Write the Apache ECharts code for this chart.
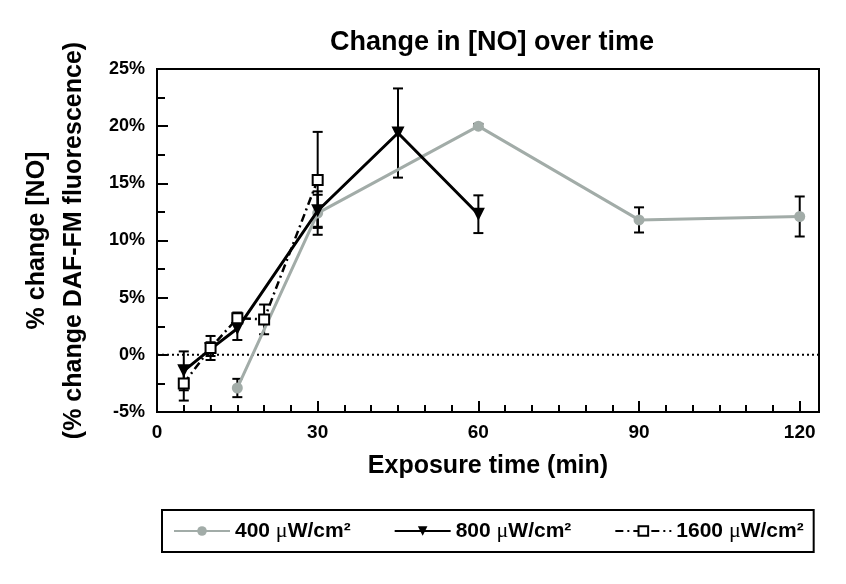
<!DOCTYPE html>
<html>
<head>
<meta charset="utf-8">
<script src="https://cdn.jsdelivr.net/npm/echarts@6/dist/echarts.min.js"></script>
<style>html,body{margin:0;padding:0;background:#fff}#c{width:846px;height:584px}</style>
</head>
<body>
<div id="c"></div>
<script>
// ---- data ----
const time400 = [15, 30, 60, 90, 120];
const mean400 = [-2.9, 12.4, 20.0, 11.8, 12.1];
const err400  = [0.8, 1.9, 0.2, 1.1, 1.75];

const time800 = [5, 10, 15, 30, 45, 60];
const mean800 = [-1.4, 0.5, 2.3, 12.6, 19.4, 12.3];
const err800  = [1.7, 0.6, 1.0, 1.4, 3.9, 1.65];

const time1600 = [5, 10, 15, 20, 30];
const mean1600 = [-2.5, 0.6, 3.2, 3.1, 15.3];
const err1600  = [1.5, 1.05, 0.5, 1.3, 4.2];

const seriesNames = ['400 \u03bcW/cm\u00b2', '800 \u03bcW/cm\u00b2', '1600 \u03bcW/cm\u00b2'];
const xTicks = [0, 30, 60, 90, 120];
const yTicks = [-5, 0, 5, 10, 15, 20, 25];
const xRange = [0, 123.6];
const baseline = [0];

const FONT = '"Liberation Sans", Arial, Helvetica, sans-serif';

function pts(t, m) { return t.map((x, i) => [x, m[i]]); }
function errPts(t, m, e) { return t.map((x, i) => [x, m[i], e[i]]); }

function errorBar(name, data) {
  return {
    type: 'custom',
    name: name + '_err',
    xAxisIndex: 0, yAxisIndex: 0,
    z: 1,
    silent: true,
    data: data,
    renderItem: function (params, api) {
      const x = api.value(0), y = api.value(1), e = api.value(2);
      const hi = api.coord([x, y + e]);
      const lo = api.coord([x, y - e]);
      const w = 5;
      const st = { stroke: '#000', lineWidth: 2 };
      return {
        type: 'group',
        children: [
          { type: 'line', shape: { x1: hi[0], y1: hi[1], x2: lo[0], y2: lo[1] }, style: st },
          { type: 'line', shape: { x1: hi[0] - w, y1: hi[1], x2: hi[0] + w, y2: hi[1] }, style: st },
          { type: 'line', shape: { x1: lo[0] - w, y1: lo[1], x2: lo[0] + w, y2: lo[1] }, style: st }
        ]
      };
    }
  };
}

const chart = echarts.init(document.getElementById('c'), null, { renderer: 'canvas' });
chart.setOption({
  backgroundColor: '#fff',
  animation: false,
  title: {
    text: 'Change in [NO] over time',
    left: 487, top: 24, textAlign: 'center',
    textStyle: { fontFamily: FONT, fontSize: 27, fontWeight: 'bold', color: '#000' }
  },
  legend: {
    data: seriesNames,
    left: 162, top: 510,
    padding: [10, 10, 10, 11],
    itemGap: 43,
    itemWidth: 56, itemHeight: 12,
    borderColor: '#000', borderWidth: 2,
    formatter: function (name) {
      const parts = name.split('\u03bc');
      return '{a|' + parts[0] + '}{m|\u03bc}{a|' + parts[1] + '}';
    },
    textStyle: {
      fontFamily: FONT, fontSize: 21, fontWeight: 'bold', color: '#000',
      rich: {
        a: { fontFamily: FONT, fontSize: 21, fontWeight: 'bold', color: '#000' },
        m: { fontFamily: '"Liberation Serif", "Times New Roman", serif', fontSize: 22, fontWeight: 'normal', color: '#000' }
      }
    }
  },
  grid: {
    left: 157, right: 27, top: 69, bottom: 172,
    show: true, borderColor: '#000', borderWidth: 2, backgroundColor: 'transparent'
  },
  xAxis: [
    {
      type: 'value', min: xRange[0], max: xRange[1], interval: 30,
      name: 'Exposure time (min)', nameLocation: 'middle', nameGap: 42,
      nameTextStyle: { fontFamily: FONT, fontSize: 25, fontWeight: 'bold', color: '#000' },
      axisLine: { onZero: false, lineStyle: { color: '#000', width: 2 } },
      axisTick: { inside: true, length: 11, lineStyle: { color: '#000', width: 2 } },
      axisLabel: {
        margin: 11, fontFamily: FONT, fontSize: 19, fontWeight: 'bold', color: '#000',
        showMaxLabel: false,
        formatter: v => (xTicks.indexOf(v) >= 0 ? String(v) : '')
      },
      splitLine: { show: false }
    },
    {
      type: 'value', min: xRange[0], max: xRange[1], interval: 5, position: 'bottom',
      axisLine: { show: false, onZero: false },
      axisTick: { inside: true, length: 7, lineStyle: { color: '#000', width: 2 } },
      axisLabel: { show: false },
      splitLine: { show: false }
    }
  ],
  yAxis: {
    type: 'value', min: -5, max: 25, interval: 5,
    name: '% change [NO]\n(% change DAF-FM fluorescence)',
    nameLocation: 'middle', nameRotate: 90, nameGap: 64,
    nameTextStyle: { fontFamily: FONT, fontSize: 25, fontWeight: 'bold', color: '#000', lineHeight: 37 },
    axisLine: { show: true, onZero: false, lineStyle: { color: '#000', width: 2 } },
    axisTick: { show: true, inside: true, length: 11, lineStyle: { color: '#000', width: 2 } },
    minorTick: { show: true, splitNumber: 2, length: 8, lineStyle: { color: '#000', width: 2 } },
    axisLabel: {
      margin: 12, fontFamily: FONT, fontSize: 18, fontWeight: 'bold', color: '#000',
      formatter: v => (yTicks.indexOf(v) >= 0 ? v + '%' : '')
    },
    splitLine: { show: false }
  },
  series: [
    {
      type: 'custom', name: 'baseline', silent: true, z: 0,
      data: baseline.map(v => [v]),
      renderItem: function (params, api) {
        const y = api.value(0);
        const a = api.coord([xRange[0], y]);
        const b = api.coord([xRange[1], y]);
        return {
          type: 'line',
          shape: { x1: a[0], y1: a[1], x2: b[0], y2: b[1] },
          style: { stroke: '#000', lineWidth: 2, lineDash: [2, 3] }
        };
      }
    },
    errorBar(seriesNames[0], errPts(time400, mean400, err400)),
    errorBar(seriesNames[1], errPts(time800, mean800, err800)),
    errorBar(seriesNames[2], errPts(time1600, mean1600, err1600)),
    {
      type: 'line', name: seriesNames[0], z: 3,
      data: pts(time400, mean400),
      symbol: 'circle', symbolSize: 11,
      itemStyle: { color: '#a2aca8' },
      lineStyle: { color: '#a2aca8', width: 3 }
    },
    {
      type: 'line', name: seriesNames[1], z: 4,
      data: pts(time800, mean800),
      symbol: 'triangle', symbolRotate: 180, symbolSize: 13,
      itemStyle: { color: '#000' },
      lineStyle: { color: '#000', width: 3 }
    },
    {
      type: 'line', name: seriesNames[2], z: 5,
      data: pts(time1600, mean1600),
      symbol: 'rect', symbolSize: 10,
      itemStyle: { color: '#fff', borderColor: '#000', borderWidth: 2 },
      lineStyle: { color: '#000', width: 2.5, type: [8, 4, 2, 4] }
    }
  ]
});
</script>
</body>
</html>
